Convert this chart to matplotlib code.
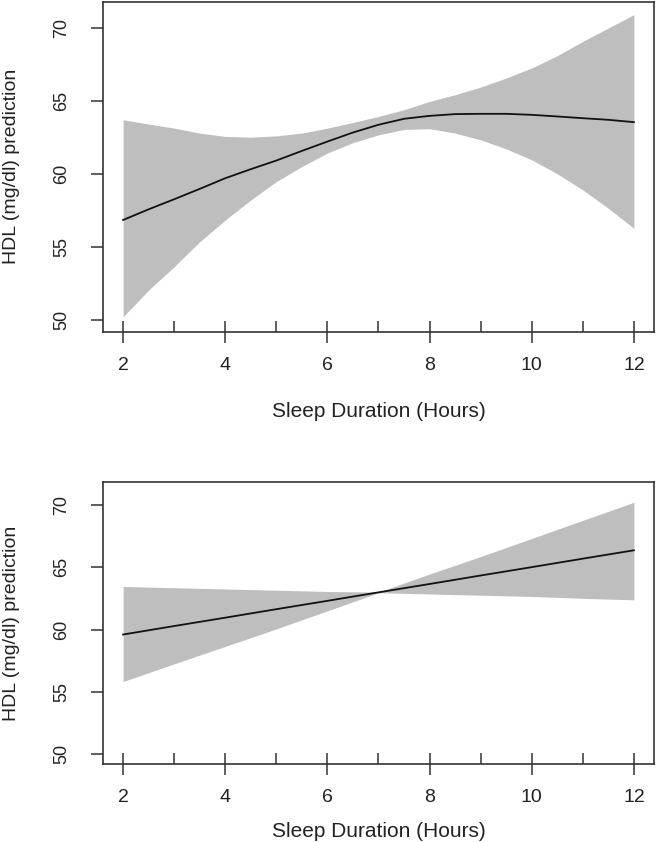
import numpy as np
import matplotlib.pyplot as plt
from matplotlib.ticker import MultipleLocator

plt.rcParams['font.family'] = ['Liberation Sans', 'DejaVu Sans']

# panel 1: quadratic fit
hours_top = [2, 2.5, 3, 3.5, 4, 4.5, 5, 5.5, 6, 6.5, 7, 7.5, 8, 8.5, 9, 9.5, 10, 10.5, 11, 11.5, 12]
fit_top = [56.85, 57.58, 58.27, 58.98, 59.71, 60.33, 60.92, 61.58, 62.22, 62.84, 63.37,
           63.78, 63.98, 64.10, 64.12, 64.12, 64.05, 63.94, 63.82, 63.71, 63.55]
upper_top = [63.71, 63.42, 63.14, 62.80, 62.57, 62.52, 62.61, 62.80, 63.14, 63.53, 63.94,
             64.40, 64.97, 65.43, 65.95, 66.57, 67.26, 68.10, 69.08, 70.00, 70.91]
lower_top = [50.22, 52.05, 53.65, 55.36, 56.85, 58.22, 59.48, 60.51, 61.43, 62.15, 62.68,
             63.05, 63.10, 62.80, 62.34, 61.72, 60.97, 60.01, 58.91, 57.65, 56.28]

# panel 2: linear fit
hours_bot = [2, 3, 4, 5, 6, 7, 8, 9, 10, 11, 12]
fit_bot = [59.60, 60.28, 60.95, 61.63, 62.30, 62.98, 63.65, 64.33, 65.00, 65.68, 66.35]
upper_bot = [63.45, 63.35, 63.25, 63.15, 63.05, 63.00, 64.45, 65.85, 67.30, 68.75, 70.20]
lower_bot = [55.83, 57.25, 58.65, 60.05, 61.50, 62.95, 62.85, 62.75, 62.65, 62.50, 62.38]

xticks = [2, 4, 6, 8, 10, 12]
yticks = [50, 55, 60, 65, 70]
xlabel = "Sleep Duration (Hours)"
ylabel = "HDL (mg/dl) prediction"

fig = plt.figure(figsize=(6.57, 8.42), dpi=100)
ax1 = fig.add_axes([0.1563, 0.6061, 0.8396, 0.3919])
ax2 = fig.add_axes([0.1563, 0.0923, 0.8396, 0.3349])

txt = '#222222'
panels = [(ax1, hours_top, fit_top, upper_top, lower_top, -0.243),
          (ax2, hours_bot, fit_bot, upper_bot, lower_bot, -0.24)]

for ax, x, fit, up, lo, xl_y in panels:
    ax.fill_between(x, lo, up, color='#BEBEBE', linewidth=0)
    ax.plot(x, fit, color='#111111', linewidth=1.3)
    ax.set_xlim(1.6, 12.4)
    ax.set_ylim(49.2, 71.8)
    ax.set_xticks(xticks)
    ax.xaxis.set_minor_locator(MultipleLocator(1))
    ax.set_yticks(yticks)
    ax.set_yticklabels([str(v) for v in yticks], rotation=90, va='center')
    ax.tick_params(axis='x', which='major', direction='inout', length=16, width=1.1,
                   pad=10, labelsize=14, colors='#333333', labelcolor=txt)
    ax.tick_params(axis='x', which='minor', direction='in', length=8, width=1.1,
                   colors='#333333')
    ax.tick_params(axis='y', direction='out', length=8.5, width=1.1, pad=15,
                   labelsize=13, colors='#333333', labelcolor=txt)
    for s in ax.spines.values():
        s.set_linewidth(1.2)
        s.set_color('#333333')
    ax.set_xlabel(xlabel, fontsize=15, color=txt)
    ax.xaxis.set_label_coords(0.5, xl_y)
    ax.xaxis.label.set_va('center')
    ax.set_ylabel(ylabel, fontsize=14, color=txt)
    ax.yaxis.set_label_coords(-0.165, 0.5)
    ax.yaxis.label.set_va('center')
    ax.yaxis.label.set_ha('center')

plt.savefig('out.png', dpi=100)
